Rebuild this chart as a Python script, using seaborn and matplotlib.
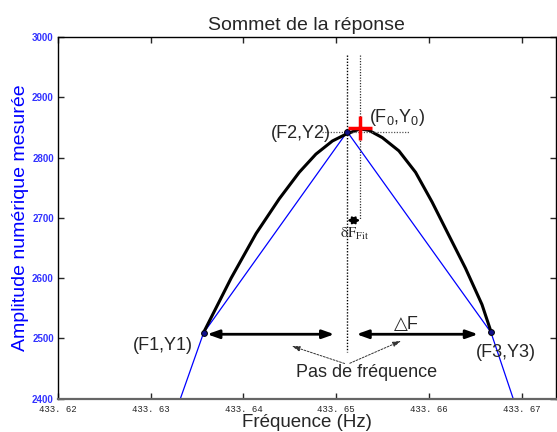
import numpy as np
import pandas as pd
import matplotlib
matplotlib.use("Agg")
import matplotlib.pyplot as plt
import seaborn as sns

# Data
# fitted response (black curve), sampled along the drawn curve
fit_freq = [433.63570, 433.63868, 433.64137, 433.64387, 433.64602, 433.64782,
            433.64960, 433.65104, 433.65258, 433.65355, 433.65498, 433.65677,
            433.65857, 433.66035, 433.66215, 433.66395, 433.66573, 433.66670]
fit_amp = [2509.7, 2600.2, 2674.2, 2731.8, 2775.7, 2805.9,
           2827.7, 2838.8, 2847.8, 2845.3, 2833.3, 2811.3,
           2775.7, 2726.4, 2671.4, 2616.6, 2556.3, 2511.4]

# measured points (blue polyline)
meas_freq = [433.6332, 433.6357, 433.6512, 433.6667, 433.6691]
meas_amp = [2400, 2509, 2843, 2510, 2400]

# the three measured samples
pt_freq = [433.6357, 433.6512, 433.6667]
pt_amp = [2509, 2843, 2510]
pt_labels = ["(F1,Y1)", "(F2,Y2)", "(F3,Y3)"]

# fitted top
f0, y0 = 433.6526, 2850

xticks = [433.62, 433.63, 433.64, 433.65, 433.66, 433.67]
yticks = [2400, 2500, 2600, 2700, 2800, 2900, 3000]

sns.set_style("ticks")
plt.rcParams["font.family"] = ["Liberation Sans", "DejaVu Sans"]
plt.rcParams["mathtext.fontset"] = "custom"
plt.rcParams["mathtext.rm"] = "Liberation Sans"
plt.rcParams["mathtext.it"] = "Liberation Sans"

fig = plt.figure(figsize=(5.57, 4.32), dpi=100)
ax = fig.add_axes([0.104, 0.077, 0.894, 0.837])

blue = "#0000ff"

fit_df = pd.DataFrame({"f": fit_freq, "y": fit_amp})
meas_df = pd.DataFrame({"f": meas_freq, "y": meas_amp})
sns.lineplot(data=meas_df, x="f", y="y", sort=False, color=blue, lw=0.9, ax=ax)
sns.lineplot(data=fit_df, x="f", y="y", sort=False, color="black", lw=2.2, ax=ax)
ax.plot(pt_freq, pt_amp, "o", ms=4.2, mfc="#10108a", mec="black", mew=0.7, zorder=5)

# dotted guides
ax.plot([pt_freq[1], pt_freq[1]], [2970, 2477], ls=(0, (1, 1.2)), color="black", lw=1)
ax.plot([f0, f0], [2970, 2696], ls=(0, (1, 1.2)), color="#333333", lw=0.9)
ax.plot([433.6485, 433.6579], [pt_amp[1], pt_amp[1]], ls=(0, (1, 1.2)), color="#555555", lw=0.9)

# red cross at fitted top
ax.plot([f0], [y0], "+", color="red", ms=17, mew=2.5, zorder=6)

# frequency step arrows
big = dict(arrowstyle="<|-|>,head_length=0.7,head_width=0.25", color="black", lw=2)
ax.annotate("", xy=(433.6358, 2507), xytext=(433.6501, 2507), arrowprops=big)
ax.annotate("", xy=(433.6519, 2507), xytext=(433.6656, 2507), arrowprops=big)
ax.annotate("", xy=(pt_freq[1], 2696), xytext=(f0, 2696),
            arrowprops=dict(arrowstyle="<|-|>,head_length=0.45,head_width=0.22",
                            color="black", lw=1.4, shrinkA=0, shrinkB=0))

thin = dict(arrowstyle="-|>,head_length=0.5,head_width=0.15", color="#333333", lw=0.7, ls=(0, (2, 1.5)))
ax.annotate("", xy=(433.6449, 2489), xytext=(433.6512, 2457), arrowprops=thin)
ax.annotate("", xy=(433.6573, 2498), xytext=(433.6512, 2457), arrowprops=thin)

# labels
fs = 13
ax.text(433.6313, 2489, pt_labels[0], fontsize=fs, ha="center", va="center")
ax.text(433.6494, 2840, pt_labels[1], fontsize=fs, ha="right", va="center")
ax.text(433.6683, 2477, pt_labels[2], fontsize=fs, ha="center", va="center")
ax.text(433.6535, 2867, r"(F$_{\rm 0}$,Y$_{\rm 0}$)", fontsize=fs, ha="left", va="center")
ax.text(433.6576, 2524, "\u25b3F", fontsize=fs, ha="center", va="center")
ax.text(433.6533, 2444, "Pas de fréquence", fontsize=fs, ha="center", va="center")
ax.text(433.6520, 2673, r"$\mathrm{δF}_{\mathrm{Fit}}$", fontsize=10.5, ha="center",
        va="center", math_fontfamily="stix")

ax.set_xlim(433.62, 433.6737)
ax.set_ylim(2400, 3000)
ax.set_xticks(xticks)
ax.set_xticklabels([f"{t:.2f}".replace(".", ". ") for t in xticks],
                   fontsize=6.5, family="Liberation Mono")
ax.set_yticks(yticks)
ax.set_yticklabels([str(t) for t in yticks], fontsize=7, fontweight="bold", color="#3333ff")
ax.tick_params(direction="in", length=4, top=True, right=True, width=1)
ax.tick_params(axis="x", pad=4.5)
ax.tick_params(axis="y", pad=3)

for s in ["left", "top", "right"]:
    ax.spines[s].set_color("black")
    ax.spines[s].set_linewidth(1)
ax.spines["bottom"].set_color("#666666")
ax.spines["bottom"].set_linewidth(1.6)

ax.set_title("Sommet de la réponse", fontsize=14, pad=5)
ax.set_xlabel("Fréquence (Hz)", fontsize=13.5, labelpad=0)
ax.set_ylabel("Amplitude numérique mesurée", fontsize=14, color=blue, labelpad=2)

fig.savefig("out.png", dpi=100)
